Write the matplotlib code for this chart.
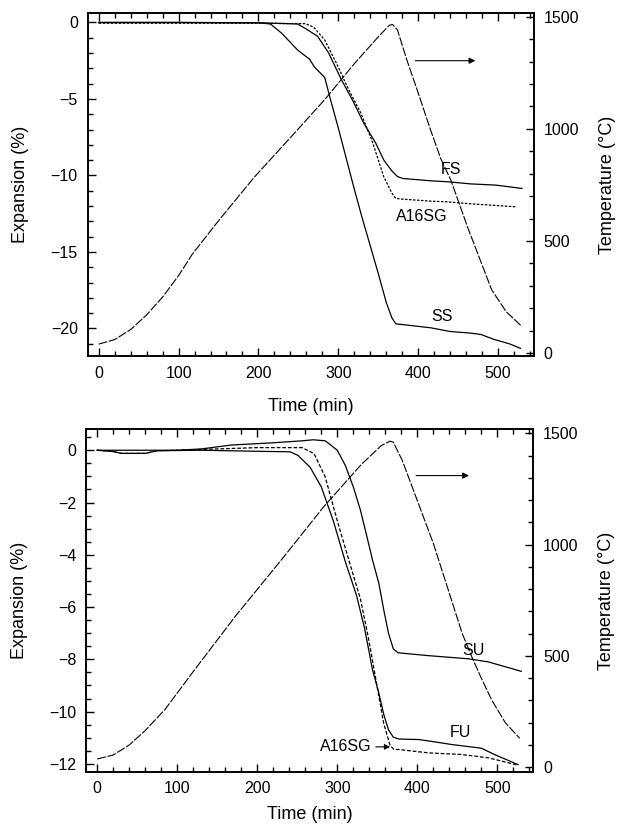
import matplotlib
matplotlib.use("Agg")
import matplotlib.pyplot as plt
from matplotlib.ticker import MultipleLocator

plt.rcParams['font.family'] = ['Liberation Sans', 'DejaVu Sans']

# ---- top panel data (time in min) ----
top_temp_t = [0, 20, 40, 60, 80, 100, 117, 150, 195, 250, 283, 320, 350, 364, 368, 374,
              386, 400, 415, 428, 441, 449, 462, 476, 492, 510, 530]
top_temp_T = [40, 60, 105, 170, 250, 345, 440, 590, 785, 1000, 1130, 1290, 1410, 1462, 1465, 1441,
              1305, 1160, 1000, 869, 770, 690, 560, 430, 282, 185, 118]

ss_t = [0, 100, 200, 215, 229, 249, 264, 270, 283, 290, 300, 310, 320, 330, 340, 350, 360,
        367, 372, 381, 416, 440, 465, 479, 494, 514, 528]
ss_v = [0, 0, -0.02, -0.1, -0.7, -1.8, -2.4, -2.9, -3.6, -5.0, -6.9, -8.9, -10.9, -12.8, -14.6,
        -16.4, -18.3, -19.3, -19.7, -19.75, -19.96, -20.2, -20.3, -20.4, -20.7, -21.0, -21.3]

fs_t = [0, 100, 200, 249, 259, 274, 288, 303, 318, 332, 347, 357, 367, 374, 381, 416, 439,
        465, 497, 530]
fs_v = [0, 0, -0.02, -0.1, -0.4, -0.9, -2.0, -3.65, -5.1, -6.6, -7.9, -9.0, -9.7, -10.07, -10.2,
        -10.35, -10.42, -10.55, -10.63, -10.85]

a16_top_t = [0, 100, 200, 259, 269, 283, 298, 313, 328, 342, 357, 367, 372, 381, 416, 435, 465, 522]
a16_top_v = [-0.05, -0.05, -0.05, -0.08, -0.3, -1.15, -2.7, -4.4, -5.9, -7.7, -10.1, -11.15,
             -11.5, -11.55, -11.68, -11.72, -11.85, -12.05]

# ---- bottom panel data ----
bot_temp_t = [0, 20, 40, 60, 85, 120, 173, 232, 283, 330, 355, 366, 370, 381, 400, 420, 440,
              456, 468, 480, 493, 510, 528]
bot_temp_T = [37, 55, 100, 165, 261, 430, 680, 940, 1170, 1360, 1445, 1465, 1460, 1380, 1198,
              1006, 782, 602, 497, 400, 302, 200, 130]

su_t = [0, 30, 60, 100, 130, 168, 217, 256, 270, 285, 300, 310, 320, 329, 337, 344, 352, 358,
        364, 370, 376, 414, 464, 489, 530]
su_v = [0, 0, 0, 0, 0.05, 0.2, 0.28, 0.36, 0.4, 0.36, 0.0, -0.58, -1.4, -2.3, -3.3, -4.2, -5.1,
        -6.1, -7.0, -7.6, -7.75, -7.86, -7.98, -8.1, -8.46]

fu_t = [0, 20, 30, 60, 75, 130, 200, 241, 251, 266, 280, 295, 310, 324, 334, 344, 352, 358,
        364, 370, 377, 402, 420, 443, 480, 497, 526]
fu_v = [0, -0.05, -0.12, -0.12, -0.02, 0, -0.04, -0.06, -0.2, -0.65, -1.4, -2.7, -4.26, -5.55,
        -6.8, -8.4, -9.3, -10.1, -10.7, -10.98, -11.05, -11.07, -11.15, -11.26, -11.4, -11.65, -12.03]

a16_bot_t = [0, 20, 30, 60, 75, 130, 200, 256, 271, 285, 300, 315, 329, 339, 349, 358, 366,
             371, 377, 414, 455, 489, 526]
a16_bot_v = [0, -0.05, -0.12, -0.12, -0.02, 0.03, 0.1, 0.1, -0.13, -1.03, -2.7, -4.26, -5.7,
             -7.2, -8.9, -10.45, -11.3, -11.45, -11.45, -11.58, -11.64, -11.77, -12.05]

temp_style = (0, (8, 1.5))
lw = 0.9
tick_fs = 11.5
label_fs = 13

fig = plt.figure(figsize=(6.18, 8.25), dpi=100)


def setup(ax, ax2, ylim, ymajor, yminor, tlim):
    ax.set_xlim(-14, 545)
    ax.set_ylim(*ylim)
    ax2.set_ylim(*tlim)
    ax.xaxis.set_major_locator(MultipleLocator(100))
    ax.xaxis.set_minor_locator(MultipleLocator(20))
    ax.yaxis.set_major_locator(MultipleLocator(ymajor))
    ax.yaxis.set_minor_locator(MultipleLocator(yminor))
    ax2.yaxis.set_major_locator(MultipleLocator(500))
    ax2.yaxis.set_minor_locator(MultipleLocator(100))
    ax.tick_params(which='both', direction='in', top=True, right=False, labelsize=tick_fs,
                   width=1.0)
    ax.tick_params(which='major', length=6, pad=7)
    ax.tick_params(which='minor', length=3.5)
    ax2.tick_params(which='both', direction='in', labelsize=tick_fs, width=1.0)
    ax2.tick_params(which='major', length=6, pad=7)
    ax2.tick_params(which='minor', length=3.5)
    for a in (ax, ax2):
        for s in a.spines.values():
            s.set_linewidth(1.2)
    ax.set_xlabel('Time (min)', fontsize=label_fs)
    ax.set_ylabel('Expansion (%)', fontsize=label_fs)
    ax2.set_ylabel('Temperature (\u00b0C)', fontsize=label_fs)
    ax.yaxis.set_label_coords(-0.13, 0.5)
    ax2.yaxis.set_label_coords(1.145, 0.5)


# top panel
ax1 = fig.add_axes([0.1416, 0.5685, 0.7225, 0.4154])
ax1t = ax1.twinx()
setup(ax1, ax1t, (-21.8, 0.6), 5, 1, (-13, 1515))
ax1.xaxis.set_label_coords(0.5, -0.122)
ax1.plot(ss_t, ss_v, color='k', lw=lw)
ax1.plot(fs_t, fs_v, color='k', lw=lw)
ax1.plot(a16_top_t, a16_top_v, color='k', lw=lw, linestyle=(0, (2, 1.2)))
ax1t.plot(top_temp_t, top_temp_T, color='k', lw=0.8, linestyle=temp_style)
ax1.annotate('', xy=(475, -2.5), xytext=(393, -2.5),
             arrowprops=dict(arrowstyle='-|>', lw=0.8, color='k', mutation_scale=9))
ax1.text(441, -9.6, 'FS', fontsize=tick_fs, ha='center', va='center')
ax1.text(405, -12.7, 'A16SG', fontsize=tick_fs, ha='center', va='center')
ax1.text(430, -19.2, 'SS', fontsize=tick_fs, ha='center', va='center')

# bottom panel
ax2 = fig.add_axes([0.1392, 0.0646, 0.7238, 0.415])
ax2t = ax2.twinx()
setup(ax2, ax2t, (-12.3, 0.8), 2, 0.5, (-20, 1518))
ax2.xaxis.set_label_coords(0.5, -0.1)
ax2.plot(su_t, su_v, color='k', lw=lw)
ax2.plot(fu_t, fu_v, color='k', lw=lw)
ax2.plot(a16_bot_t, a16_bot_v, color='k', lw=lw, linestyle=(0, (3, 1.5)))
ax2t.plot(bot_temp_t, bot_temp_T, color='k', lw=0.8, linestyle=temp_style)
ax2.annotate('', xy=(468, -0.97), xytext=(395, -0.97),
             arrowprops=dict(arrowstyle='-|>', lw=0.8, color='k', mutation_scale=9))
ax2.annotate('A16SG', xy=(366, -11.35), xytext=(343, -11.35), fontsize=tick_fs,
             ha='right', va='center',
             arrowprops=dict(arrowstyle='-|>', lw=0.8, color='k', mutation_scale=8,
                             shrinkA=1, shrinkB=0))
ax2.text(470, -7.67, 'SU', fontsize=tick_fs, ha='center', va='center')
ax2.text(454, -10.8, 'FU', fontsize=tick_fs, ha='center', va='center')

fig.savefig('out.png', dpi=100)
